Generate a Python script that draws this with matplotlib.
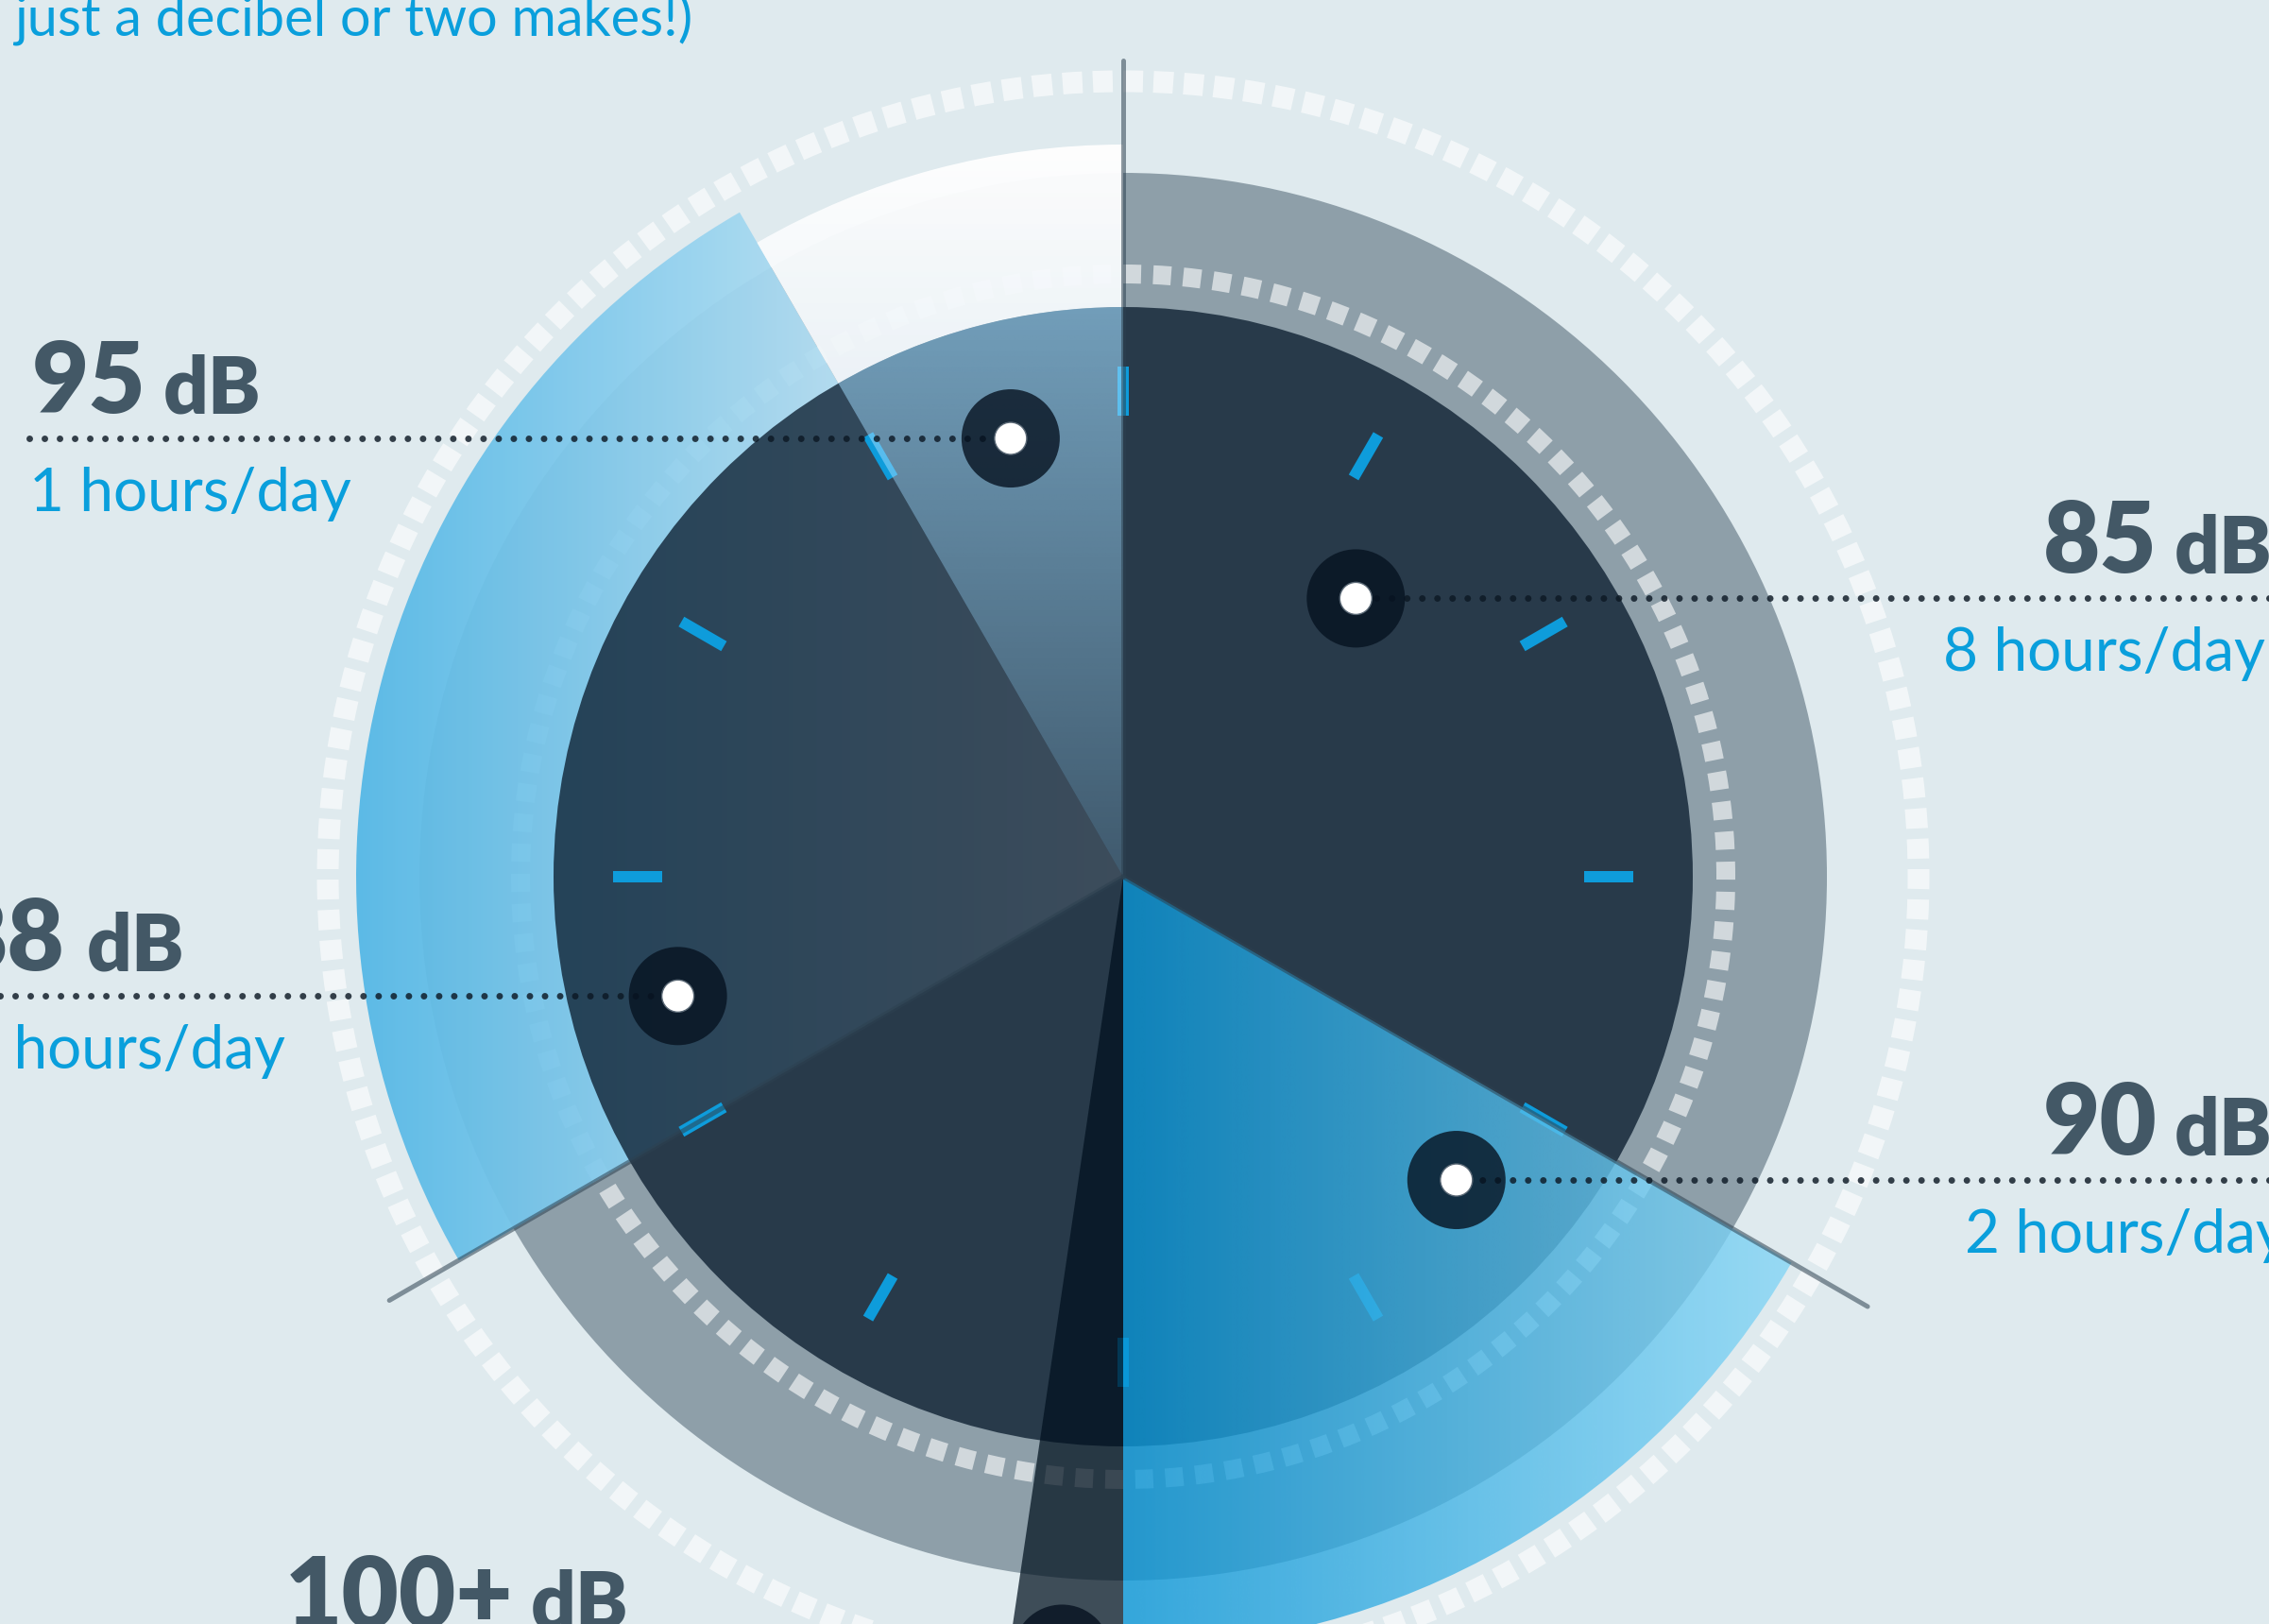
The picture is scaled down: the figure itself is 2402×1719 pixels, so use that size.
import numpy as np
import matplotlib
matplotlib.use("Agg")
import matplotlib.pyplot as plt
from matplotlib.patches import Wedge, Circle
from matplotlib.colors import to_rgb

plt.rcParams["lines.scale_dashes"] = False
plt.rcParams["font.family"] = ["Lato", "DejaVu Sans"]

W, H = 2402, 1719
CX, CY = 1189, 928
PT = 0.72  # points per pixel at dpi 100

BG = "#dfeaee"
DARK_TEXT = "#435866"
BLUE_TEXT = "#0a9fdc"

# data: exposure level, allowed time, position on the 12-hour dial
levels = ["85", "88", "90", "95", "100+"]
hours_text = ["8 hours/day", "4 hours/day", "2 hours/day", "1 hours/day"]
start_hour = [0, 8, 4, 11, 6]
end_hour = [4, 11, 6, 12, 6.28]
sector_radius = [745, 812, 817, 775, 905]
marker_hour = [1.33, 8.5, 4.41, 11.52, 6.15]
marker_radius = [384, 488, 477, 479, 825]

dial_radius = 603
tick_hours = list(range(12))
spoke_hours = [0, 4, 8]
spoke_length = [864, 910, 897]

# label layout
num_x = [2163, 69, 2163, 34, 302]
num_ha = ["left", "right", "left", "left", "left"]
hours_x = [2057, 302, 2080, 31]
hours_ha = ["left", "right", "left", "left"]
line_to = [W, 0, W, 31]


def clock_xy(h, r):
    a = np.radians(30.0 * h)
    return CX + r * np.sin(a), CY - r * np.cos(a)


def sector(h0, h1, r, width=None, **kw):
    kw.setdefault("fc", "none")
    kw.setdefault("ec", "none")
    return Wedge((CX, CY), r, 30 * h0 - 90, 30 * h1 - 90, width=width, **kw)


def gradient_sector(ax, patch, c0, c1, a0, a1, vertical=False, z=3):
    ax.add_patch(patch)
    b = patch.get_path().get_extents()
    t = np.linspace(0, 1, 256)
    rgb = (1 - t)[:, None] * np.array(to_rgb(c0)) + t[:, None] * np.array(to_rgb(c1))
    alpha = (1 - t) * a0 + t * a1
    rgba = np.column_stack([rgb, alpha])
    if vertical:
        img = np.repeat(rgba[:, None, :], 2, axis=1)
    else:
        img = np.repeat(rgba[None, :, :], 2, axis=0)
    im = ax.imshow(img, extent=(b.x0, b.x1, b.y1, b.y0), origin="upper",
                   aspect="auto", interpolation="bilinear", zorder=z)
    im.set_clip_path(patch)


fig = plt.figure(figsize=(W / 100, H / 100), dpi=100, facecolor=BG)
ax = fig.add_axes([0, 0, 1, 1])
ax.set_facecolor(BG)
ax.axis("off")

# dial base (85 dB ring colour)
ax.add_patch(Circle((CX, CY), sector_radius[0], fc="#8e9fa9", ec="none", zorder=1))

# dashed rings
for r, lw, on, n in [(638, 20, 19, 126), (842, 23, 21, 165)]:
    period = 2 * np.pi * r / n
    ax.add_patch(Circle((CX, CY), r, fill=False, ec=(1, 1, 1, 0.6), lw=lw * PT,
                        linestyle=(0, (on * PT, (period - on) * PT)), zorder=2))

# 88 dB sector (under the dial face)
gradient_sector(ax, sector(start_hour[1], end_hour[1], sector_radius[1]),
                "#55b8e6", "#eef6fa", 0.95, 0.95, z=3)

# dial face
ax.add_patch(Circle((CX, CY), dial_radius, fc=(12 / 255, 30 / 255, 48 / 255),
                    alpha=0.78, ec="none", zorder=4))

# clock ticks
for h in tick_hours:
    x0, y0 = clock_xy(h, 488)
    x1, y1 = clock_xy(h, 540)
    ax.plot([x0, x1], [y0, y1], color="#0e9cdb", lw=12 * PT,
            solid_capstyle="butt", zorder=5)

# 95 dB sector: outer white band + translucent part over the face
gradient_sector(ax, sector(start_hour[3], end_hour[3], sector_radius[3],
                           width=sector_radius[3] - dial_radius),
                "#ffffff", "#f0f6fa", 0.98, 0.97, vertical=True, z=6)
gradient_sector(ax, sector(start_hour[3], end_hour[3], dial_radius),
                "#a0dcff", "#a0dcff", 0.62, 0.2, vertical=True, z=6)

# 90 dB sector
gradient_sector(ax, sector(start_hour[2], end_hour[2], sector_radius[2]),
                "#0a96d7", "#86d6f6", 0.8, 0.8, z=6)

# 100+ dB sector
ax.add_patch(sector(start_hour[4], end_hour[4], sector_radius[4],
                    fc=(0, 16 / 255, 30 / 255), alpha=0.72, zorder=7))

# spokes
for h, ln in zip(spoke_hours, spoke_length):
    x1, y1 = clock_xy(h, ln)
    ax.plot([CX, x1], [CY, y1], color=(45 / 255, 65 / 255, 80 / 255), alpha=0.55,
            lw=5 * PT, solid_capstyle="round", zorder=8)

# markers, dotted leaders and labels
marker_pos = [clock_xy(h, r) for h, r in zip(marker_hour, marker_radius)]
for i, (mx, my) in enumerate(marker_pos):
    if i < len(line_to):
        ax.plot([line_to[i], mx], [my, my], color=(12 / 255, 24 / 255, 36 / 255),
                alpha=0.82, lw=7 * PT, linestyle=(0, (0.01, 16 * PT)),
                dash_capstyle="round", zorder=9)
    ax.add_patch(Circle((mx, my), 52, fc=(6 / 255, 18 / 255, 32 / 255), alpha=0.8,
                        ec="none", zorder=10))
    ax.add_patch(Circle((mx, my), 17, fc="white", ec="#5a6875", lw=1, zorder=11))

num_texts = []
for i, (mx, my) in enumerate(marker_pos):
    t = ax.text(num_x[i], my - 27, levels[i], fontsize=75, fontweight="heavy",
                color=DARK_TEXT, ha=num_ha[i], va="baseline", zorder=12)
    num_texts.append(t)
    if i < len(hours_text):
        ax.text(hours_x[i], my + 77, hours_text[i], fontsize=46, color=BLUE_TEXT,
                ha=hours_ha[i], va="baseline", zorder=12)

ax.text(15, 38, "just a decibel or two makes!)", fontsize=41.5, color=BLUE_TEXT,
        ha="left", va="baseline", zorder=12)

ax.set_xlim(0, W)
ax.set_ylim(H, 0)

fig.canvas.draw()
renderer = fig.canvas.get_renderer()
for i, t in enumerate(num_texts):
    ext = t.get_window_extent(renderer)
    x_db = ext.x1 + 18 if num_ha[i] == "left" else num_x[i] + 23
    ax.text(x_db, marker_pos[i][1] - 27, "dB", fontsize=60, fontweight="heavy",
            color=DARK_TEXT, ha="left", va="baseline", zorder=12)

fig.savefig("out.png", dpi=100, facecolor=BG)
